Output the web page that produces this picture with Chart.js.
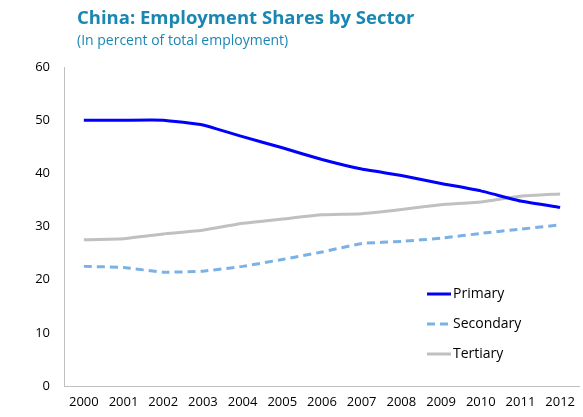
<!DOCTYPE html>
<html>
<head>
<meta charset="utf-8">
<script src="https://cdn.jsdelivr.net/npm/chart.js@4/dist/chart.umd.min.js"></script>
<style>
  body { margin: 0; background: #fff; font-family: "Open Sans", sans-serif; }
  #wrap { position: relative; width: 583px; height: 417px; }
  #title { position: absolute; left: 77px; top: 4px; font-size: 18.5px; font-weight: bold; color: #1a87b3; }
  #sub { position: absolute; left: 77px; top: 30px; font-size: 14px; color: #1a87b3; }
  canvas { position: absolute; left: 0; top: 0; }
</style>
</head>
<body>
<div id="wrap">
  <canvas id="chart" width="583" height="417"></canvas>
  <div id="title">China: Employment Shares by Sector</div>
  <div id="sub">(In percent of total employment)</div>
</div>
<script>
  // Years and sector shares (percent of total employment)
  const years = ['2000', '2001', '2002', '2003', '2004', '2005', '2006', '2007', '2008', '2009', '2010', '2011', '2012'];
  const primary = [50.0, 50.0, 50.0, 49.1, 46.9, 44.8, 42.6, 40.8, 39.6, 38.1, 36.7, 34.8, 33.6];
  const secondary = [22.5, 22.3, 21.4, 21.6, 22.5, 23.8, 25.2, 26.8, 27.2, 27.8, 28.7, 29.5, 30.3];
  const tertiary = [27.5, 27.7, 28.6, 29.3, 30.6, 31.4, 32.2, 32.4, 33.2, 34.1, 34.6, 35.7, 36.1];

  // Legend drawn inside the plot area
  const insideLegend = {
    id: 'insideLegend',
    afterDraw(chart) {
      const ctx = chart.ctx;
      ctx.save();
      ctx.font = '14px "Open Sans", sans-serif';
      ctx.textBaseline = 'middle';
      chart.data.datasets.forEach((ds, i) => {
        const y = 294 + i * 30;
        ctx.strokeStyle = ds.borderColor;
        ctx.lineWidth = 3;
        ctx.setLineDash(ds.borderDash || []);
        ctx.beginPath();
        ctx.moveTo(427, y);
        ctx.lineTo(451, y);
        ctx.stroke();
        ctx.setLineDash([]);
        ctx.fillStyle = '#000';
        ctx.fillText(ds.label, 453, y);
      });
      ctx.restore();
    }
  };

  new Chart(document.getElementById('chart'), {
    type: 'line',
    data: {
      labels: years,
      datasets: [
        { label: 'Primary', data: primary, borderColor: '#0000ff', borderWidth: 3 },
        { label: 'Secondary', data: secondary, borderColor: '#7cb1e6', borderWidth: 3, borderDash: [8, 5] },
        { label: 'Tertiary', data: tertiary, borderColor: '#c0c0c0', borderWidth: 3 }
      ]
    },
    options: {
      responsive: false,
      animation: false,
      layout: { padding: { top: 67, right: 0, left: 0, bottom: 0 } },
      elements: { point: { radius: 0 }, line: { tension: 0.1 } },
      plugins: { legend: { display: false }, tooltip: { enabled: false } },
      scales: {
        x: {
          offset: true,
          grid: { display: false, drawTicks: false },
          border: { color: '#bfbfbf' },
          ticks: { color: '#000', font: { size: 13, family: '"Open Sans", sans-serif' }, maxRotation: 0, autoSkip: false, padding: 8 },
          afterFit(scale) { scale.height = 31; }
        },
        y: {
          min: 0,
          max: 60,
          grid: { display: false, drawTicks: false },
          border: { color: '#bfbfbf' },
          ticks: { stepSize: 10, color: '#000', font: { size: 13, family: '"Open Sans", sans-serif' }, padding: 14 },
          afterFit(scale) { scale.width = 64; }
        }
      }
    },
    plugins: [insideLegend]
  });
</script>
</body>
</html>
